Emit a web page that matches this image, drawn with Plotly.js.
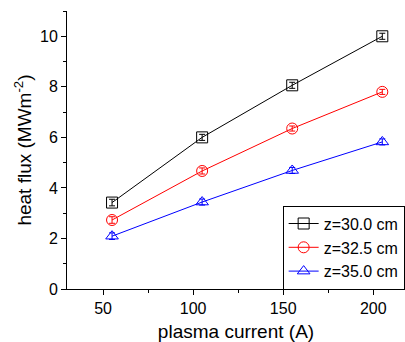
<!DOCTYPE html>
<html><head><meta charset="utf-8">
<script src="https://cdn.plot.ly/plotly-3.0.1.min.js"></script>
<style>html,body{margin:0;padding:0;background:#fff}#c{width:405px;height:342px}</style>
</head><body><div id="c"></div>
<script>
const current = [55, 105, 155, 205];
const flux30 = [3.42, 6.0, 8.06, 10.0];
const flux325 = [2.73, 4.67, 6.35, 7.8];
const flux35 = [2.09, 3.44, 4.69, 5.82];
const err30 = [0.13, 0.12, 0.12, 0.12];
const err325 = [0.13, 0.12, 0.1, 0.1];
const err35 = [0.13, 0.12, 0.12, 0.12];
const names = ["z=30.0 cm", "z=32.5 cm", "z=35.0 cm"];
const xTicks = [50, 100, 150, 200];
const yTicks = [0, 2, 4, 6, 8, 10];

function tr(y, e, name, color, symbol) {
  return {
    x: current, y: y, name: name, type: 'scatter', mode: 'lines+markers',
    line: {color: color, width: 1},
    marker: {symbol: symbol, size: 11, color: color, line: {color: color, width: 1}},
    error_y: {type: 'data', array: e, visible: true, color: color, thickness: 1, width: 3}
  };
}
const data = [
  tr(flux30, err30, names[0], '#000000', 'square-open'),
  tr(flux325, err325, names[1], '#ff0000', 'circle-open'),
  tr(flux35, err35, names[2], '#0000ff', 'triangle-up-open')
];
const font = {family: 'Liberation Sans, Arial, sans-serif', color: '#000'};
const layout = {
  width: 405, height: 342,
  margin: {l: 67, r: 0, t: 11, b: 53},
  paper_bgcolor: '#fff', plot_bgcolor: '#fff',
  font: font,
  showlegend: true,
  legend: {x: 0.638, y: 0.30, xanchor: 'left', yanchor: 'top',
    bordercolor: '#000', borderwidth: 1, bgcolor: '#fff',
    font: {family: font.family, size: 16, color: '#000'},
    tracegroupgap: 0, itemwidth: 30},
  xaxis: {
    range: [30, 217.6], tickvals: xTicks, ticks: 'outside', ticklen: 5,
    tickwidth: 1, tickcolor: '#000',
    showline: true, linecolor: '#000', linewidth: 1, zeroline: false, showgrid: false,
    tickfont: {family: font.family, size: 16, color: '#000'},
    minor: {dtick: 25, tick0: 0, ticks: 'outside', ticklen: 3, tickcolor: '#000', showgrid: false},
    title: {text: 'plasma current (A)', font: {family: font.family, size: 19, color: '#000'}, standoff: 10}
  },
  yaxis: {
    range: [0, 11], tickvals: yTicks, ticks: 'outside', ticklen: 5,
    tickwidth: 1, tickcolor: '#000',
    showline: true, linecolor: '#000', linewidth: 1, zeroline: false, showgrid: false,
    tickfont: {family: font.family, size: 16, color: '#000'},
    minor: {dtick: 1, tick0: 0, ticks: 'outside', ticklen: 3, tickcolor: '#000', showgrid: false},
    title: {text: 'heat flux (MWm<sup>-2</sup>)', font: {family: font.family, size: 19, color: '#000'}, standoff: 3}
  }
};
Plotly.newPlot('c', data, layout, {staticPlot: true, displayModeBar: false});
</script></body></html>
